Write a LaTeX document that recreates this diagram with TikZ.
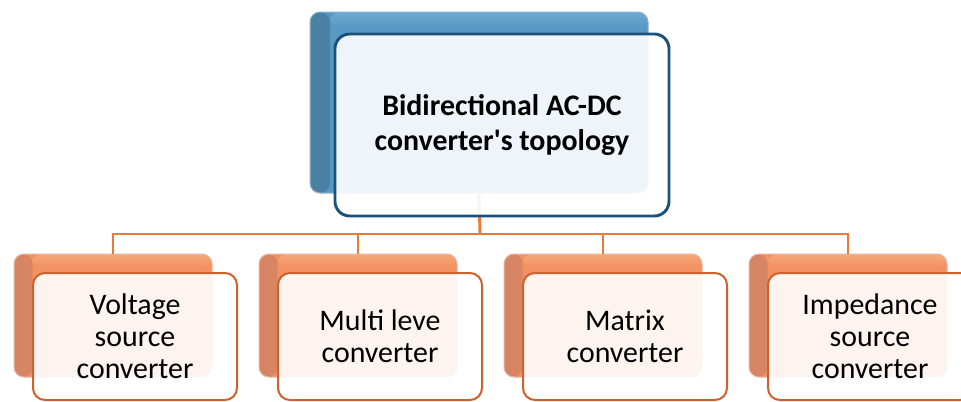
\documentclass[tikz,border=0pt]{standalone}
\usepackage{fontspec}
\setmainfont{Carlito}[Ligatures=TeXOff]
\definecolor{bluemain}{RGB}{88,152,196}
\definecolor{bluedark}{RGB}{74,128,162}
\definecolor{bluelight}{RGB}{108,170,208}
\definecolor{blueborder}{RGB}{28,82,122}
\definecolor{orgmain}{RGB}{242,146,98}
\definecolor{orgdark}{RGB}{214,132,100}
\definecolor{orglight}{RGB}{248,168,122}
\definecolor{orgborder}{RGB}{205,98,45}
\definecolor{orgline}{RGB}{235,122,55}
\begin{document}
\begin{tikzpicture}[x=0.75pt,y=-0.75pt,
  backblue/.style={rounded corners=7.5pt, inner sep=0pt, outer sep=0pt, fill=bluemain, draw=bluedark!60, line width=0.75pt,
    minimum width=253.5pt, minimum height=135.75pt,
    path picture={
      \shade[left color=bluedark, right color=bluemain] (path picture bounding box.south west) rectangle ([xshift=15pt]path picture bounding box.north west);
      \shade[top color=bluelight, bottom color=bluemain] ([xshift=15pt]path picture bounding box.north west) rectangle ([yshift=-12pt]path picture bounding box.north east);
    }},
  frontblue/.style={rounded corners=11pt, inner sep=0pt, outer sep=0pt, fill=white, fill opacity=0.9, text opacity=1,
    draw=blueborder, draw opacity=1, line width=2.2pt, minimum width=250.5pt, minimum height=136.5pt,
    align=center, font=\fontsize{22.4}{26.2}\selectfont\bfseries},
  backorg/.style={rounded corners=7.5pt, inner sep=0pt, outer sep=0pt, fill=orgmain, draw=orgdark!60, line width=0.75pt,
    minimum width=148.5pt, minimum height=92.25pt,
    path picture={
      \shade[left color=orgdark, right color=orgmain] (path picture bounding box.south west) rectangle ([xshift=14pt]path picture bounding box.north west);
      \shade[top color=orglight, bottom color=orgmain] ([xshift=14pt]path picture bounding box.north west) rectangle ([yshift=-10pt]path picture bounding box.north east);
    }},
  frontorg/.style={rounded corners=9pt, inner sep=0pt, outer sep=0pt, fill=white, fill opacity=0.9, text opacity=1,
    draw=orgborder, draw opacity=1, line width=1.5pt, minimum width=153pt, minimum height=95.25pt,
    align=center, font=\fontsize{22.4}{24}\selectfont},
  conn/.style={draw=orgline, line width=2.2pt}
]
\clip (0,0) rectangle (961,401);
\fill[white] (0,0) rectangle (961,401);
% back boxes
\node[backblue] (tb) at (479,102.5) {};
\node[backorg] (b1) at (113,315.5) {};
\node[backorg] (b2) at (358,315.5) {};
\node[backorg] (b3) at (603,315.5) {};
\node[backorg] (b4) at (848,315.5) {};
% connectors
\coordinate (rail) at (480,234);
\draw[conn] (b1.north) |- (rail) -| (b4.north);
\draw[conn] (b2.north) -- (b2.north |- rail);
\draw[conn] (b3.north) -- (b3.north |- rail);
\draw[conn] (tb.south) -- (rail);
% front boxes
\node[frontblue] (tf) at (502,125) {Bidirectional AC-DC\\converter's topology};
\node[frontorg] (f1) at (135,336.5) {Voltage\\source\\converter};
\node[frontorg] (f2) at (380,336.5) {Multi leve\\converter};
\node[frontorg] (f3) at (625,336.5) {Matrix\\converter};
\node[frontorg] (f4) at (870,336.5) {Impedance\\source\\converter};
\end{tikzpicture}
\end{document}
